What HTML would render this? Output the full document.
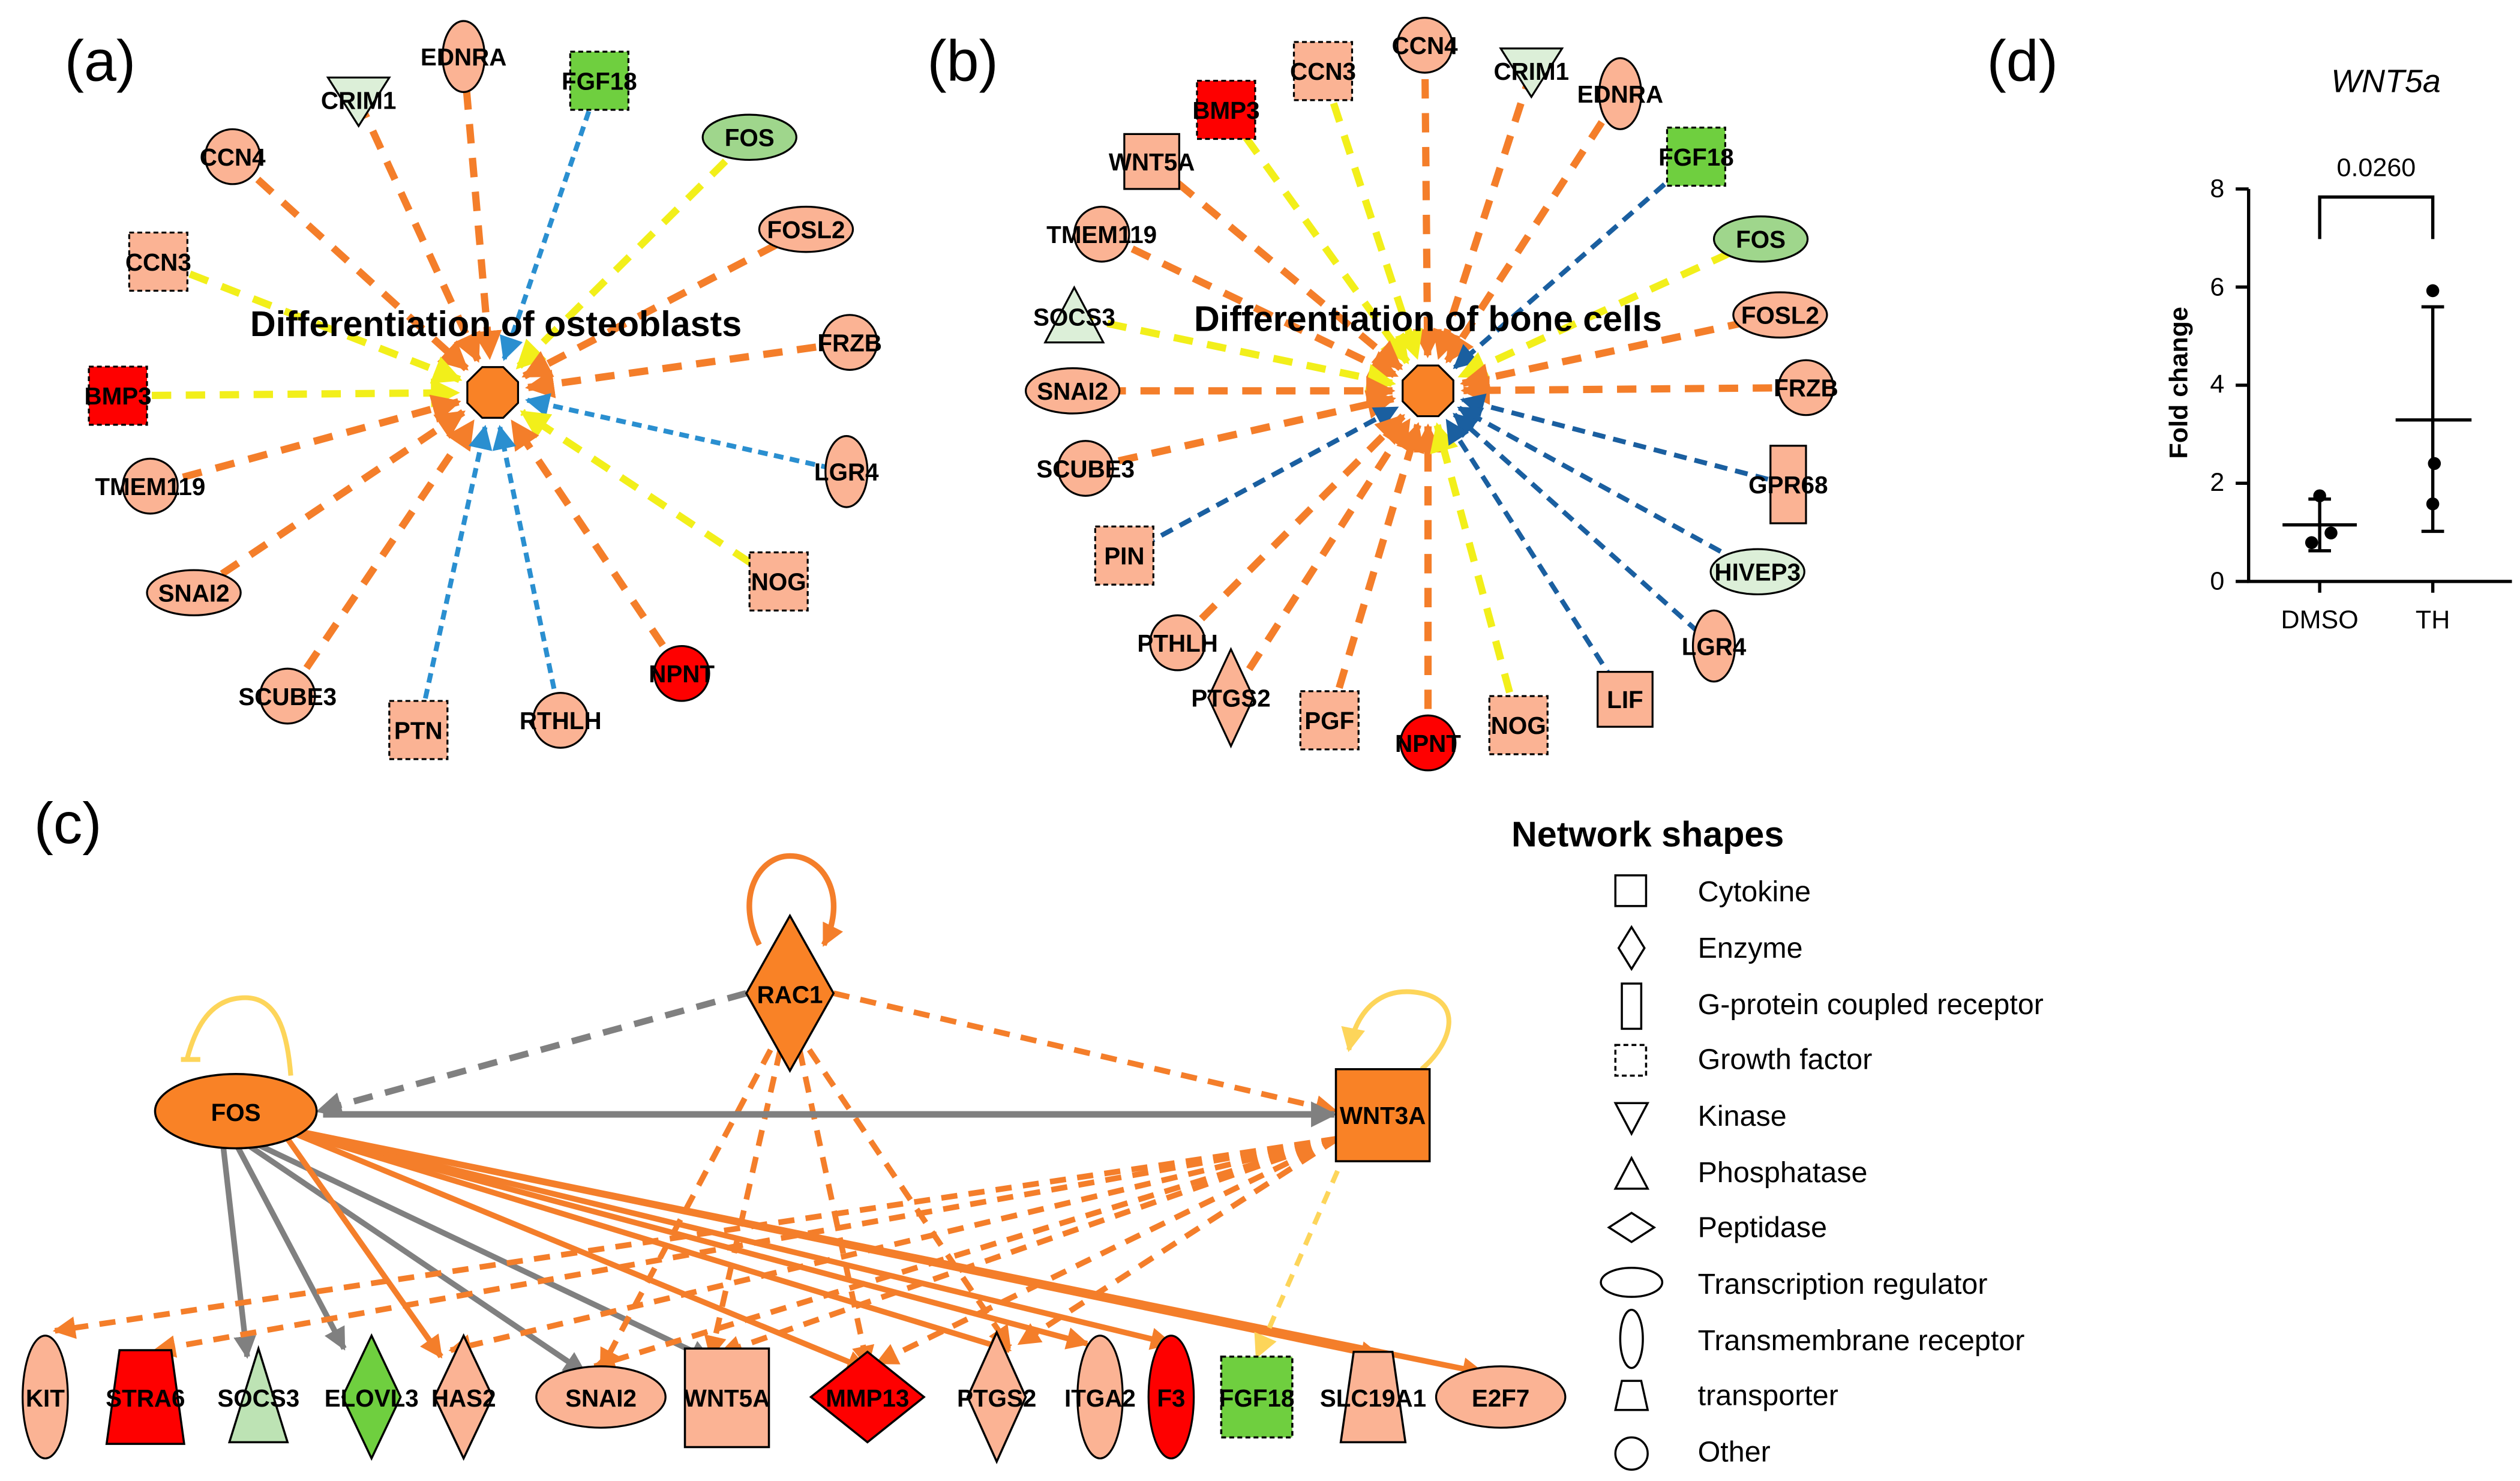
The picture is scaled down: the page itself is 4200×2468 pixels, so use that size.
<!DOCTYPE html>
<html><head><meta charset="utf-8">
<style>
html,body{margin:0;padding:0;background:#fff;}
svg{display:block;}
text{font-family:"Liberation Sans",sans-serif;}
</style></head>
<body>
<svg id="s" width="4200" height="2468" viewBox="0 0 1560 917" preserveAspectRatio="none" xmlns="http://www.w3.org/2000/svg">
<defs>
<marker id="ao" viewBox="0 0 10 10" refX="9" refY="5" markerWidth="4" markerHeight="4" orient="auto" markerUnits="strokeWidth"><path d="M0,0L10,5L0,10z" fill="#f47e2a"/></marker>
<marker id="ay" viewBox="0 0 10 10" refX="9" refY="5" markerWidth="4" markerHeight="4" orient="auto" markerUnits="strokeWidth"><path d="M0,0L10,5L0,10z" fill="#f2ef1a"/></marker>
<marker id="ab" viewBox="0 0 10 10" refX="9" refY="5" markerWidth="5" markerHeight="5" orient="auto" markerUnits="strokeWidth"><path d="M0,0L10,5L0,10z" fill="#2a8fd0"/></marker>
<marker id="ad" viewBox="0 0 10 10" refX="9" refY="5" markerWidth="5" markerHeight="5" orient="auto" markerUnits="strokeWidth"><path d="M0,0L10,5L0,10z" fill="#1a5fa0"/></marker>
<marker id="ag" viewBox="0 0 10 10" refX="9" refY="5" markerWidth="4" markerHeight="4" orient="auto" markerUnits="strokeWidth"><path d="M0,0L10,5L0,10z" fill="#808080"/></marker>
<marker id="ayl" viewBox="0 0 10 10" refX="9" refY="5" markerWidth="5" markerHeight="5" orient="auto" markerUnits="strokeWidth"><path d="M0,0L10,5L0,10z" fill="#fdd55a"/></marker>
</defs>
<g id="edges"></g>
<g id="nodes"></g>
<g id="labels" font-size="15" font-weight="bold" fill="#000" text-anchor="middle"></g>

<text x="62" y="50" font-size="36" text-anchor="middle">(a)</text>
<text x="596" y="50" font-size="36" text-anchor="middle">(b)</text>
<text x="1252" y="50" font-size="36" text-anchor="middle">(d)</text>
<text x="42" y="522" font-size="36" text-anchor="middle">(c)</text>

<text x="307" y="208" font-size="22" font-weight="bold" text-anchor="middle">Differentiation of osteoblasts</text>
<text x="884" y="205" font-size="22" font-weight="bold" text-anchor="middle">Differentiation of bone cells</text>

<g font-size="16" text-anchor="middle">
<text x="1477" y="57" font-style="italic" font-size="20">WNT5a</text>
<text x="1471" y="109">0.0260</text>
<text x="1436" y="389">DMSO</text>
<text x="1506" y="389">TH</text>
<text x="1354" y="237" font-weight="bold" transform="rotate(-90 1354 237)">Fold change</text>
<text x="1377" y="122" text-anchor="end">8</text>
<text x="1377" y="183" text-anchor="end">6</text>
<text x="1377" y="243" text-anchor="end">4</text>
<text x="1377" y="304" text-anchor="end">2</text>
<text x="1377" y="365" text-anchor="end">0</text>
</g>
<g stroke="#000" stroke-width="2" fill="none">
<path d="M1392,117V360H1555"/>
<path d="M1384,117H1392M1384,177.7H1392M1384,238.5H1392M1384,299.2H1392M1384,360H1392"/>
<path d="M1436,360v7M1506,360v7"/>
<path d="M1436,148V122H1506V148"/>
<path d="M1413,325H1459M1436,309V341M1429,309H1443M1429,341H1443"/>
<path d="M1483,260H1530M1506,190V329M1499,190H1513M1499,329H1513"/>
</g>
<g fill="#000">
<circle cx="1436" cy="307" r="4"/><circle cx="1431" cy="336" r="4"/><circle cx="1443" cy="330" r="4"/>
<circle cx="1506" cy="180" r="4"/><circle cx="1507" cy="287" r="4"/><circle cx="1506" cy="312" r="4"/>
</g>

<g font-size="18">
<text x="1020" y="524" font-weight="bold" font-size="22" text-anchor="middle">Network shapes</text>
<text x="1051" y="558">Cytokine</text>
<text x="1051" y="593">Enzyme</text>
<text x="1051" y="628">G-protein coupled receptor</text>
<text x="1051" y="662">Growth factor</text>
<text x="1051" y="697">Kinase</text>
<text x="1051" y="732">Phosphatase</text>
<text x="1051" y="766">Peptidase</text>
<text x="1051" y="801">Transcription regulator</text>
<text x="1051" y="836">Transmembrane receptor</text>
<text x="1051" y="870">transporter</text>
<text x="1051" y="905">Other</text>
</g>
<g fill="#fff" stroke="#000" stroke-width="1.3">
<rect x="1000" y="542" width="19" height="19"/>
<path d="M1010,574L1018,587L1010,600L1002,587Z"/>
<rect x="1004" y="609" width="12" height="28"/>
<rect x="1000" y="647" width="19" height="19" stroke-dasharray="3,2"/>
<path d="M1000,683H1020L1010,702Z"/>
<path d="M1000,736H1020L1010,717Z"/>
<path d="M996,760L1010,751L1024,760L1010,769Z"/>
<ellipse cx="1010" cy="794" rx="19" ry="9"/>
<ellipse cx="1010" cy="829" rx="7" ry="18"/>
<path d="M1004,855H1016L1020,873H1000Z"/>
<circle cx="1010" cy="900" r="10"/>
</g>

<script>
const NS="http://www.w3.org/2000/svg";
const E=document.getElementById('edges'),N=document.getElementById('nodes'),L=document.getElementById('labels');
function el(tag,attrs,parent){const e=document.createElementNS(NS,tag);for(const k in attrs)e.setAttribute(k,attrs[k]);parent.appendChild(e);return e;}
const SAL="#fbb394",RED="#fe0000",GRN="#6fcf3f",LGRN="#9fd68c",PGRN="#dcefd8",ORG="#f98226";
function shape(t,x,y,fill,lab){
 const s={fill:fill,stroke:"#000","stroke-width":1.2};
 if(t=='c')el('circle',Object.assign({cx:x,cy:y,r:17},s),N);
 else if(t=='e')el('ellipse',Object.assign({cx:x,cy:y,rx:29,ry:14},s),N);
 else if(t=='ve')el('ellipse',Object.assign({cx:x,cy:y,rx:13,ry:22},s),N);
 else if(t=='s')el('rect',Object.assign({x:x-17,y:y-17,width:34,height:34},s),N);
 else if(t=='ds')el('rect',Object.assign({x:x-18,y:y-18,width:36,height:36,"stroke-dasharray":"3,2"},s),N);
 else if(t=='td')el('path',Object.assign({d:`M${x-19},${y-14}H${x+19}L${x},${y+16}Z`},s),N);
 else if(t=='tu')el('path',Object.assign({d:`M${x-18},${y+16}H${x+18}L${x},${y-18}Z`},s),N);
 else if(t=='d')el('path',Object.assign({d:`M${x},${y-30}L${x+14},${y}L${x},${y+30}L${x-14},${y}Z`},s),N);
 else if(t=='vr')el('rect',Object.assign({x:x-11,y:y-24,width:22,height:48},s),N);
 const tx=el('text',{x:x,y:y+5.5},L);tx.textContent=lab;
}
const COL={o:["#f47e2a",4.5,"12,9","ao"],y:["#f2ef1a",4.5,"12,9","ay"],b:["#2a8fd0",3,"6,4","ab"],d:["#1a5fa0",3,"8,5","ad"]};
function star(cx,cy,list){
 list.forEach(n=>{const [lab,t,x,y,fill,c]=n;const[col,w,da,m]=COL[c];
  const dx=cx-x,dy=cy-y,len=Math.hypot(dx,dy);const ex=cx-dx/len*22,ey=cy-dy/len*22;
  el('line',{x1:x,y1:y,x2:ex,y2:ey,stroke:col,"stroke-width":w,"stroke-dasharray":da,"marker-end":`url(#${m})`},E);
  shape(t,x,y,fill,lab);});
 el('path',{d:oct(cx,cy,17),fill:ORG,stroke:"#000","stroke-width":1.2},N);
}
function oct(cx,cy,r){let p=[];for(let i=0;i<8;i++){const a=Math.PI/8+i*Math.PI/4;p.push((cx+r*Math.cos(a)).toFixed(1)+','+(cy+r*Math.sin(a)).toFixed(1));}return 'M'+p.join('L')+'Z';}
star(305,243,[
["EDNRA","ve",287,35,SAL,"o"],["CRIM1","td",222,62,PGRN,"o"],["FGF18","ds",371,50,GRN,"b"],["FOS","e",464,85,LGRN,"y"],
["CCN4","c",144,97,SAL,"o"],["FOSL2","e",499,142,SAL,"o"],["CCN3","ds",98,162,SAL,"y"],["FRZB","c",526,212,SAL,"o"],
["BMP3","ds",73,245,RED,"y"],["LGR4","ve",524,292,SAL,"b"],["TMEM119","c",93,301,SAL,"o"],["NOG","ds",482,360,SAL,"y"],
["SNAI2","e",120,367,SAL,"o"],["NPNT","c",422,417,RED,"o"],["SCUBE3","c",178,431,SAL,"o"],["PTN","ds",259,452,SAL,"b"],["RTHLH","c",347,446,SAL,"b"]]);
star(884,242,[
["CCN4","c",882,28,SAL,"o"],["CRIM1","td",948,44,PGRN,"o"],["CCN3","ds",819,44,SAL,"y"],["EDNRA","ve",1003,58,SAL,"o"],
["BMP3","ds",759,68,RED,"y"],["FGF18","ds",1050,97,GRN,"d"],["WNT5A","s",713,100,SAL,"o"],["FOS","e",1090,148,LGRN,"y"],
["TMEM119","c",682,145,SAL,"o"],["SOCS3","tu",665,196,PGRN,"y"],["FOSL2","e",1102,195,SAL,"o"],["SNAI2","e",664,242,SAL,"o"],
["FRZB","c",1118,240,SAL,"o"],["SCUBE3","c",672,290,SAL,"o"],["GPR68","vr",1107,300,SAL,"d"],["PIN","ds",696,344,SAL,"d"],
["HIVEP3","e",1088,354,PGRN,"d"],["PTHLH","c",729,398,SAL,"o"],["LGR4","ve",1061,400,SAL,"d"],["PTGS2","d",762,432,SAL,"o"],
["PGF","ds",823,446,SAL,"o"],["NPNT","c",884,460,RED,"o"],["NOG","ds",940,449,SAL,"y"],["LIF","s",1006,433,SAL,"d"]]);

function ln(x1,y1,x2,y2,col,w,da,m){const a={x1,y1,x2,y2,stroke:col,"stroke-width":w};if(da)a["stroke-dasharray"]=da;if(m)a["marker-end"]=`url(#${m})`;el('line',a,E);}
const B={KIT:[28,828],STRA6:[90,840],SOCS3:[153,840],ELOVL3:[213,835],HAS2:[273,840],SNAI2:[362,850],WNT5A:[440,842],MMP13:[537,848],PTGS2:[625,836],ITGA2:[673,832],F3:[725,832],FGF18:[778,844],SLC19A1:[855,840],E2F7:[918,850]};
const FOS=[168,700],RAC=[489,650],W=[828,705];
["SOCS3","ELOVL3","SNAI2","WNT5A"].forEach(k=>ln(FOS[0]-30+ (k=="SOCS3"?0:k=="ELOVL3"?8:k=="SNAI2"?14:20),708,B[k][0],B[k][1],"#808080",3.5,null,"ag"));
["HAS2","MMP13","PTGS2","ITGA2","F3","SLC19A1","E2F7"].forEach(k=>ln(FOS[0]+5,FOS[1]-2,B[k][0],B[k][1],"#f47e2a",3.5,null,"ao"));
["KIT","STRA6","HAS2","SNAI2","WNT5A","MMP13","PTGS2"].forEach(k=>ln(W[0],W[1],B[k][0]+6,B[k][1]-4,"#f47e2a",3.5,"10,7","ao"));
["SNAI2","WNT5A","MMP13","PTGS2"].forEach(k=>ln(RAC[0]+(k=="SNAI2"?-12:k=="WNT5A"?-6:k=="MMP13"?6:12),RAC[1],B[k][0]+(k=="SNAI2"?10:0),B[k][1]-2,"#f47e2a",3.5,"10,7","ao"));
ln(828,725,778,840,"#fdd55a",3,"8,6","ayl");
ln(462,615,197,688,"#808080",4,"12,8","ag");
ln(516,615,827,688,"#f47e2a",3.5,"10,7","ao");
ln(200,690,826,690,"#808080",4,null,"ag");
el('path',{d:"M470,585C455,555 470,530 489,530C510,530 525,555 510,585",fill:"none",stroke:"#f47e2a","stroke-width":3.5,"marker-end":"url(#ao)"},E);
el('path',{d:"M180,666C178,640 172,615 148,618C128,620 120,640 116,655",fill:"none",stroke:"#fdd55a","stroke-width":3},E);
el('path',{d:"M112,656H124",stroke:"#fdd55a","stroke-width":3},E);
el('path',{d:"M880,662C900,645 905,620 880,615C855,610 840,625 835,650",fill:"none",stroke:"#fdd55a","stroke-width":3,"marker-end":"url(#ayl)"},E);
function cn(d,fill,lab,lx,ly,da){const a={d:d,fill:fill,stroke:"#000","stroke-width":1.3};if(da)a["stroke-dasharray"]=da;el('path',a,N);const t=el('text',{x:lx,y:ly},L);t.textContent=lab;}
el('ellipse',{cx:146,cy:688,rx:50,ry:23,fill:ORG,stroke:"#000","stroke-width":1.3},N);let t=el('text',{x:146,y:694},L);t.textContent="FOS";
cn("M489,567L516,615L489,663L462,615Z",ORG,"RAC1",489,621);
cn("M827,662H885V719H827Z",ORG,"WNT3A",856,696);
const y0=865;
el('ellipse',{cx:28,cy:y0,rx:14,ry:38,fill:SAL,stroke:"#000","stroke-width":1.2},N);t=el('text',{x:28,y:y0+6},L);t.textContent="KIT";
cn(`M74,${y0-29}H106L114,${y0+29}H66Z`,RED,"STRA6",90,y0+6);
cn(`M142,${y0+28}H178L160,${y0-30}Z`,"#bde3b4","SOCS3",160,y0+6);
cn(`M230,${y0-38}L248,${y0}L230,${y0+38}L212,${y0}Z`,GRN,"ELOVL3",230,y0+6);
cn(`M287,${y0-38}L305,${y0}L287,${y0+38}L269,${y0}Z`,SAL,"HAS2",287,y0+6);
el('ellipse',{cx:372,cy:y0,rx:40,ry:19,fill:SAL,stroke:"#000","stroke-width":1.2},N);t=el('text',{x:372,y:y0+6},L);t.textContent="SNAI2";
cn(`M424,${y0-30}H476V${y0+31}H424Z`,SAL,"WNT5A",450,y0+6);
cn(`M537,${y0-28}L572,${y0}L537,${y0+28}L502,${y0}Z`,RED,"MMP13",537,y0+6);
cn(`M617,${y0-40}L635,${y0}L617,${y0+40}L599,${y0}Z`,SAL,"PTGS2",617,y0+6);
el('ellipse',{cx:681,cy:y0,rx:14,ry:38,fill:SAL,stroke:"#000","stroke-width":1.2},N);t=el('text',{x:681,y:y0+6},L);t.textContent="ITGA2";
el('ellipse',{cx:725,cy:y0,rx:14,ry:38,fill:RED,stroke:"#000","stroke-width":1.2},N);t=el('text',{x:725,y:y0+6},L);t.textContent="F3";
cn(`M756,${y0-25}H800V${y0+25}H756Z`,GRN,"FGF18",778,y0+6,"3,2");
cn(`M838,${y0-28}H862L870,${y0+28}H830Z`,SAL,"SLC19A1",850,y0+6);
el('ellipse',{cx:929,cy:y0,rx:40,ry:19,fill:SAL,stroke:"#000","stroke-width":1.2},N);t=el('text',{x:929,y:y0+6},L);t.textContent="E2F7";
</script>
</svg>
</body></html>
